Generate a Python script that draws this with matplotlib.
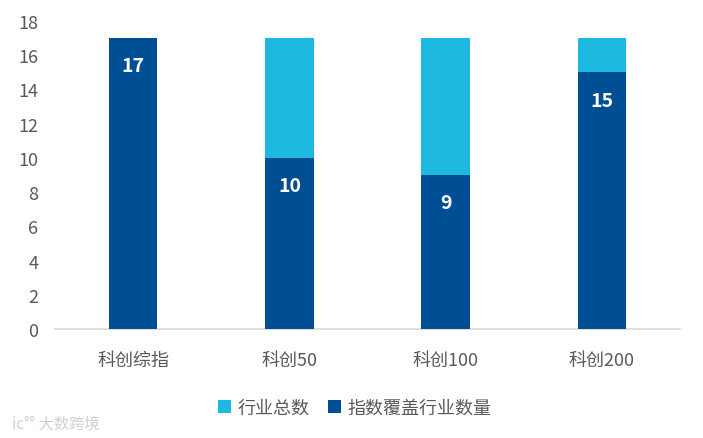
import matplotlib.pyplot as plt

plt.rcParams['font.family'] = ['Noto Sans CJK SC', 'DejaVu Sans']

categories = ['科创综指', '科创50', '科创100', '科创200']
total = [17, 17, 17, 17]
covered = [17, 10, 9, 15]

light = '#1EB9E1'
dark = '#004E93'
grey = '#595959'

fig = plt.figure(figsize=(7.03, 4.39), dpi=100)
ax = fig.add_axes([55 / 703, 1 - 330 / 439, 625 / 703, 308 / 439])

x = range(len(categories))
ax.bar(x, total, width=0.31, color=light, label='行业总数', zorder=2)
bars = ax.bar(x, covered, width=0.31, color=dark, label='指数覆盖行业数量', zorder=3)

for b, v in zip(bars, covered):
    ax.annotate(str(v), (b.get_x() + b.get_width() / 2, v), xytext=(0, -20),
                textcoords='offset points', ha='center', va='center',
                color='white', fontsize=14, fontweight='bold', zorder=4)

ax.set_xlim(-0.5, 3.5)
ax.set_ylim(0, 18)
ax.set_yticks(range(0, 19, 2))
ax.set_xticks(list(x))
ax.set_xticklabels(categories)
ax.tick_params(axis='both', length=0, labelsize=13, labelcolor=grey)
ax.tick_params(axis='x', pad=16)
ax.tick_params(axis='y', pad=12)
for s in ['top', 'right', 'left']:
    ax.spines[s].set_visible(False)
ax.spines['bottom'].set_color('#D9D9D9')
ax.spines['bottom'].set_linewidth(1.2)

fig.legend(loc='center', bbox_to_anchor=(355 / 703, 1 - 409 / 439), ncol=2,
           frameon=False, fontsize=13, handlelength=0.7, handleheight=0.7,
           handletextpad=0.4, columnspacing=1.0, labelcolor=grey)

fig.text(12 / 703, 1 - 424 / 439, 'ic°° 大数跨境', fontsize=11, color='#D0D0D0',
         va='center', ha='left')

fig.savefig('out.png', dpi=100)
